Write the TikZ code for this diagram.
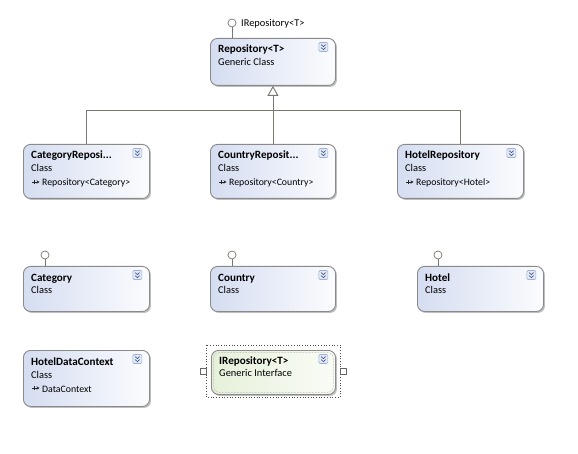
\documentclass[tikz,border=0pt]{standalone}
\usepackage{fontspec}
\setmainfont{Carlito}
\usetikzlibrary{shadows,arrows.meta}
\definecolor{bord}{HTML}{8A8A8A}
\definecolor{boxleft}{HTML}{D5DDF1}
\definecolor{boxright}{HTML}{FBFCFE}
\definecolor{grleft}{HTML}{E6F0DA}
\definecolor{grright}{HTML}{FAFCF6}
\definecolor{linec}{HTML}{787870}
\definecolor{expfill}{HTML}{E2EAF8}
\definecolor{expbord}{HTML}{9DB0D6}
\definecolor{chevc}{HTML}{4A5A80}
\tikzset{
  clsbox/.style={draw=bord, line width=0.9pt, rounded corners=7pt, left color=boxleft, right color=boxright,
    drop shadow={shadow xshift=1.5pt, shadow yshift=-1.5pt, fill=black, opacity=0.25},
    anchor=north west, inner sep=0pt},
  intbox/.style={draw=bord, line width=0.9pt, rounded corners=7pt, left color=grleft, right color=grright,
    drop shadow={shadow xshift=1.5pt, shadow yshift=-1.5pt, fill=black, opacity=0.25},
    anchor=north west, inner sep=0pt},
  ttl/.style={anchor=base west, inner sep=0pt, font=\bfseries\fontsize{11.1}{12}\selectfont},
  sub/.style={anchor=base west, inner sep=0pt, font=\fontsize{10.4}{12}\selectfont},
  third/.style={anchor=base west, inner sep=0pt, font=\fontsize{9.8}{11}\selectfont},
  expbox/.style={draw=expbord, fill=expfill, rounded corners=1.2pt, minimum size=9pt, inner sep=0pt, line width=0.6pt},
  chev/.style={draw=chevc, line width=0.7pt},
  lolli/.style={circle, draw=linec, fill=white, line width=0.7pt, minimum size=8pt, inner sep=0pt},
  conn/.style={draw=linec, line width=0.9pt},
  inhtip/.style={-{Triangle[open, length=10pt, width=11pt, line width=0.9pt]}},
  icon/.style={draw=black!85, line width=0.7pt},
}
\newcommand\expander[1]{%
  \node[expbox] (#1e) at ([xshift=-12.5pt,yshift=-9pt]#1.north east) {};
  \draw[chev] ([xshift=-2.2pt,yshift=2.4pt]#1e.center) -- ++(2.2,2) -- ++(2.2,-2);
  \draw[chev] ([xshift=-2.2pt,yshift=-0.6pt]#1e.center) -- ++(2.2,2) -- ++(2.2,-2);
}
\newcommand\umlcls[7]{%
  \node[clsbox, minimum width=#4pt, minimum height=#5pt] (#1) at (#2,#3) {};
  \node[ttl] (#1t) at ([xshift=8pt,yshift=-15pt]#1.north west) {#6};
  \node[sub] (#1s) at ([xshift=8pt,yshift=-28pt]#1.north west) {#7};
  \expander{#1}
}
\newcommand\basecls[2]{%
  \draw[icon,-{Stealth[length=3pt,width=3.4pt]}] ([xshift=9pt,yshift=-38pt]#1.north west) -- ++(7.5,0);
  \draw[icon] ([xshift=11pt,yshift=-35.8pt]#1.north west) -- ++(0,4.4);
  \node[third] (#1b) at ([xshift=19pt,yshift=-42pt]#1.north west) {#2};
}
\begin{document}
\begin{tikzpicture}[x=1pt,y=-1pt]
\useasboundingbox (0,0) rectangle (578,454);
\fill[white] (0,0) rectangle (578,454);

% classes
\umlcls{repo}{210}{38}{125}{47}{Repository<T>}{Generic Class}
\umlcls{catrepo}{23}{144}{126}{54}{CategoryReposi...}{Class}
\basecls{catrepo}{Repository<Category>}
\umlcls{ctyrepo}{210}{144}{125}{54}{CountryReposit...}{Class}
\basecls{ctyrepo}{Repository<Country>}
\umlcls{htlrepo}{397}{144}{126}{54}{HotelRepository}{Class}
\basecls{htlrepo}{Repository<Hotel>}

\umlcls{cat}{23}{266}{126}{45}{Category}{Class}
\umlcls{cty}{210}{266}{125}{45}{Country}{Class}
\umlcls{htl}{417}{266}{126}{45}{Hotel}{Class}

\umlcls{ctx}{23}{350}{126}{56}{HotelDataContext}{Class}
\basecls{ctx}{DataContext}

% interface (selected)
\draw[black!70, line width=0.7pt, dotted] (206,345) rectangle (340,397);
\node[intbox, minimum width=124pt, minimum height=44pt] (irepo) at (211,350) {};
\draw[black!40, line width=0.5pt, densely dotted, rounded corners=5.5pt]
  ([xshift=2.5pt,yshift=-2.5pt]irepo.north west) rectangle ([xshift=-2.5pt,yshift=2.5pt]irepo.south east);
\node[ttl] (irepot) at ([xshift=8pt,yshift=-14pt]irepo.north west) {IRepository<T>};
\node[sub] (irepos) at ([xshift=8pt,yshift=-26pt]irepo.north west) {Generic Interface};
\expander{irepo}
\node[draw=black!60, fill=white, minimum size=6pt, inner sep=0pt, line width=0.6pt] (hl) at (203,371) {};
\node[draw=black!60, fill=white, minimum size=6pt, inner sep=0pt, line width=0.6pt] (hr) at (343,371) {};

% lollipops
\node[lolli] (repol) at (232,23) {};
\draw[conn] (repol) -- (repol |- repo.north);
\node[sub, anchor=base west] (repoll) at (241,27) {IRepository<T>};
\node[lolli] (catl) at (45,255) {};
\draw[conn] (catl) -- (catl |- cat.north);
\node[lolli] (ctyl) at (232,255) {};
\draw[conn] (ctyl) -- (ctyl |- cty.north);
\node[lolli] (htll) at (438,255) {};
\draw[conn] (htll) -- (htll |- htl.north);

% inheritance
\coordinate (jn) at (272.5,110);
\draw[conn] (catrepo.north) |- (jn);
\draw[conn] (htlrepo.north) |- (jn);
\draw[conn, inhtip] (ctyrepo.north) -- (repo.south);
\end{tikzpicture}
\end{document}
